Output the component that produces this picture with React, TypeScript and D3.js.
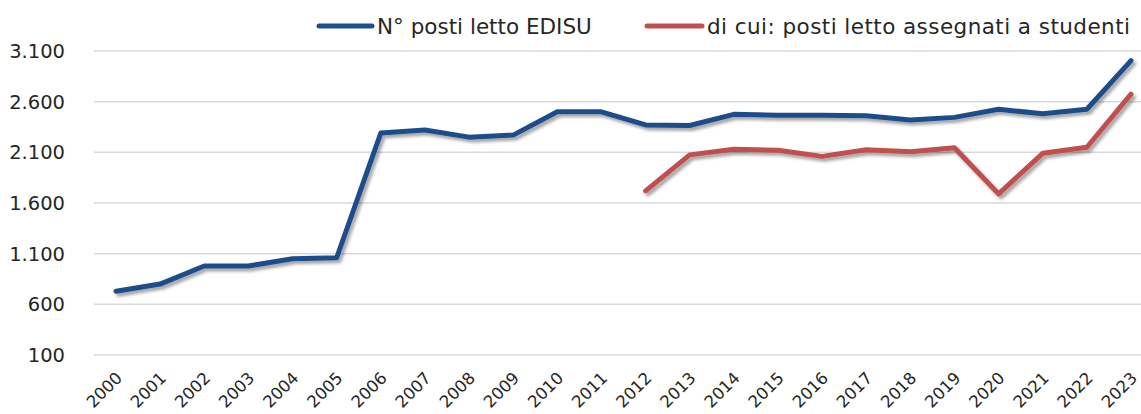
import React from "react";
import * as d3 from "d3";

const years = ["2000","2001","2002","2003","2004","2005","2006","2007","2008","2009","2010","2011","2012","2013","2014","2015","2016","2017","2018","2019","2020","2021","2022","2023"];
const postiEdisu = [730, 800, 978, 978, 1050, 1060, 2290, 2320, 2250, 2270, 2500, 2500, 2370, 2365, 2475, 2465, 2465, 2460, 2420, 2445, 2525, 2480, 2525, 3005];
const postiAssegnati = [null, null, null, null, null, null, null, null, null, null, null, null, 1720, 2075, 2130, 2120, 2060, 2125, 2105, 2145, 1690, 2090, 2150, 2675];
const yTicks = [100, 600, 1100, 1600, 2100, 2600, 3100];
const seriesNames = ["N° posti letto EDISU", "di cui: posti letto assegnati a studenti"];
const seriesColors = ["#1F4E8A", "#C0504D"];

const W = 1141;
const H = 414;
const FONT = "'DejaVu Sans', sans-serif";

const fmt = (v: number) => d3.format(",")(v).replace(/,/g, ".");

export default function App() {
  const x = d3.scalePoint<string>().domain(years).range([116, 1131]);
  const y = d3.scaleLinear().domain([100, 3100]).range([355, 51]);

  const line = d3
    .line<number | null>()
    .defined((d) => d !== null)
    .x((_, i) => x(years[i]) as number)
    .y((d) => y(d as number));

  const series = [postiEdisu, postiAssegnati];

  return (
    <div style={{ position: "absolute", left: 0, top: 0 }}>
      <svg width={W} height={H} style={{ display: "block", background: "#fff" }}>
        <defs>
          <filter id="shadow" x="-5%" y="-20%" width="110%" height="150%">
            <feDropShadow dx="2.5" dy="3" stdDeviation="1.6" floodColor="#000" floodOpacity="0.35" />
          </filter>
        </defs>

        {yTicks.map((t) => (
          <g key={t}>
            <line x1={94} x2={W} y1={y(t)} y2={y(t)} stroke="#d9d9d9" strokeWidth={1.5} />
            <text x={65} y={y(t)} dy="0.36em" textAnchor="end" fontFamily={FONT} fontSize={19.5} fill="#262626">
              {fmt(t)}
            </text>
          </g>
        ))}

        {years.map((yr) => (
          <text
            key={yr}
            transform={`translate(${(x(yr) as number) + 3},${375}) rotate(-45)`}
            textAnchor="end"
            dy="0.35em"
            fontFamily={FONT}
            fontSize={16.5}
            fill="#262626"
          >
            {yr}
          </text>
        ))}

        {series.map((s, i) => (
          <path
            key={i}
            d={line(s) || ""}
            fill="none"
            stroke={seriesColors[i]}
            strokeWidth={5}
            strokeLinejoin="round"
            strokeLinecap="round"
            filter="url(#shadow)"
          />
        ))}

        {/* legend */}
        <line x1={319} x2={372} y1={26} y2={26} stroke={seriesColors[0]} strokeWidth={5} strokeLinecap="round" />
        <text x={377} y={26} dy="0.36em" fontFamily={FONT} fontSize={21.5} fill="#262626">
          {seriesNames[0]}
        </text>
        <line x1={647} x2={702} y1={26} y2={26} stroke={seriesColors[1]} strokeWidth={5} strokeLinecap="round" />
        <text x={707} y={26} dy="0.36em" fontFamily={FONT} fontSize={21.5} fill="#262626" textLength={423} lengthAdjust="spacing">
          {seriesNames[1]}
        </text>
      </svg>
    </div>
  );
}
